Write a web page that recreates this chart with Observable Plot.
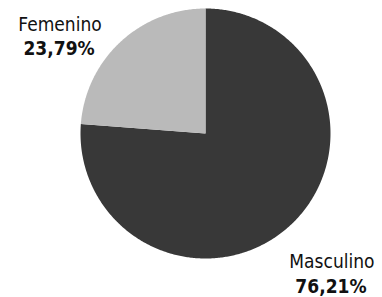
<!DOCTYPE html>
<html>
<head>
<meta charset="utf-8">
<script src="https://cdn.jsdelivr.net/npm/d3@7"></script>
<script src="https://cdn.jsdelivr.net/npm/@observablehq/plot@0.6"></script>
<style>
  html, body { margin: 0; padding: 0; background: #fff; }
  #chart svg { display: block; }
  #chart text { font-stretch: condensed; }
</style>
</head>
<body>
<div id="chart"></div>
<script>
// ---- data ----
const categories = ["Masculino", "Femenino"];
const values = [76.21, 23.79];
const valueLabels = ["76,21%", "23,79%"];

// ---- style ----
const colors = ["#383838", "#bababa"];
const fontFamily = "'Liberation Sans Narrow', 'Arial Narrow', 'DejaVu Sans', sans-serif";
const labelRadius = 1.5;
const labelOffsets = {
  Masculino: {name: [-1, -9], pct: [-2, 16]},
  Femenino: {name: [-18, 29], pct: [-19, 53]}
};

// ---- geometry from data (clockwise from 12 o'clock) ----
const total = d3.sum(values);
const ends = d3.cumsum(values);
const slices = categories.map((name, i) => {
  const a0 = ((ends[i] - values[i]) / total) * 2 * Math.PI;
  const a1 = (ends[i] / total) * 2 * Math.PI;
  return {name, value: values[i], label: valueLabels[i], a0, a1, mid: (a0 + a1) / 2};
});
const points = [];
for (const s of slices) {
  points.push({name: s.name, x: 0, y: 0});
  const n = Math.max(2, Math.ceil((s.a1 - s.a0) / 0.01));
  for (let k = 0; k <= n; k++) {
    const a = s.a0 + (s.a1 - s.a0) * k / n;
    points.push({name: s.name, x: Math.sin(a), y: Math.cos(a)});
  }
  points.push({name: s.name, x: 0, y: 0});
}
const labels = slices.map(s => ({
  name: s.name, label: s.label,
  x: labelRadius * Math.sin(s.mid), y: labelRadius * Math.cos(s.mid)
}));

const labelMarks = labels.flatMap(l => [
  Plot.text([l], {x: "x", y: "y", text: "name", dx: labelOffsets[l.name].name[0], dy: labelOffsets[l.name].name[1],
    fontSize: 19, fontFamily, fill: "#111", textAnchor: "middle", lineAnchor: "middle"}),
  Plot.text([l], {x: "x", y: "y", text: "label", dx: labelOffsets[l.name].pct[0], dy: labelOffsets[l.name].pct[1],
    fontSize: 19, fontWeight: "bold", fontFamily, fill: "#111", textAnchor: "middle", lineAnchor: "middle",
    style: "letter-spacing:1px"})
]);

const chart = Plot.plot({
  width: 382,
  height: 297,
  margin: 0,
  style: {background: "#fff", overflow: "visible"},
  x: {domain: [-1, 1], range: [80, 330], axis: null},
  y: {domain: [-1, 1], range: [258, 8], axis: null},
  color: {domain: categories, range: colors},
  marks: [
    Plot.line(points, {x: "x", y: "y", z: "name", fill: "name", stroke: "none", curve: "linear"}),
    ...labelMarks
  ]
});
document.getElementById("chart").appendChild(chart);
</script>
</body>
</html>
